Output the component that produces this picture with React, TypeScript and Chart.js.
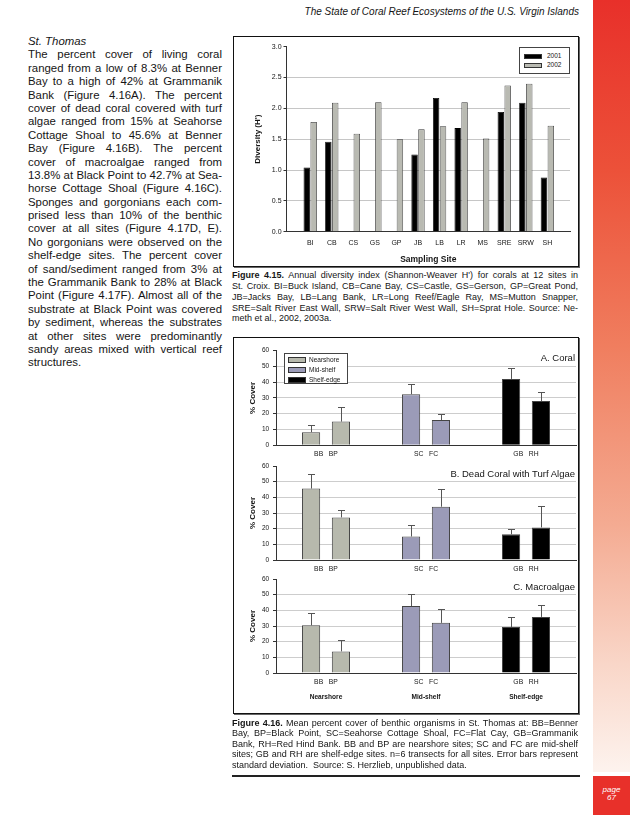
import React, { useEffect, useRef } from 'react';
import { Chart, registerables } from 'chart.js';

Chart.register(...registerables);

const FONT = '"Liberation Sans", Arial, Helvetica, sans-serif';
const INK = '#151515';

// ---------- Figure 4.15 data (St. Croix diversity) ----------
const croixSites = ['BI', 'CB', 'CS', 'GS', 'GP', 'JB', 'LB', 'LR', 'MS', 'SRE', 'SRW', 'SH'];
const diversity2001: (number | null)[] = [1.04, 1.46, null, null, null, 1.25, 2.17, 1.68, null, 1.94, 2.09, 0.88];
const diversity2002: number[] = [1.78, 2.09, 1.59, 2.1, 1.5, 1.66, 1.71, 2.1, 1.51, 2.37, 2.4, 1.72];
const yearLabels = ['2001', '2002'];

// ---------- Figure 4.16 data (St. Thomas % cover) ----------
const shelfGroups = ['Nearshore', 'Mid-shelf', 'Shelf-edge'];
const thomasSites = ['BB', 'BP', 'SC', 'FC', 'GB', 'RH'];
const coralMean = [8.3, 15.0, 32.3, 16.0, 42.0, 28.0];
const coralSD = [4.5, 9.5, 6.4, 4.0, 7.2, 5.7];
const turfMean = [45.6, 27.2, 15.0, 34.0, 16.4, 20.8];
const turfSD = [9.4, 4.8, 7.1, 11.4, 3.3, 13.6];
const macroMean = [30.4, 13.8, 42.7, 32.0, 29.3, 35.8];
const macroSD = [7.6, 7.1, 7.7, 9.1, 6.4, 7.8];
const panelTitles = ['A. Coral', 'B. Dead Coral with Turf Algae', 'C. Macroalgae'];

const groupColors = ['#b7b9ad', '#9b9bb8', '#000000'];
const yearColors = ['#000000', '#b9bab2'];

const caption1: string[] = [
  "  Annual diversity index (Shannon-Weaver H') for corals at 12 sites in",
  'St. Croix.  BI=Buck Island, CB=Cane Bay, CS=Castle, GS=Gerson, GP=Great Pond,',
  'JB=Jacks Bay, LB=Lang Bank, LR=Long Reef/Eagle Ray, MS=Mutton Snapper,',
  'SRE=Salt River East Wall, SRW=Salt River West Wall, SH=Sprat Hole.  Source: Ne-',
  'meth et al., 2002, 2003a.',
];
const caption2: string[] = [
  '  Mean percent cover of benthic organisms in St. Thomas at: BB=Benner',
  'Bay, BP=Black Point, SC=Seahorse Cottage Shoal, FC=Flat Cay, GB=Grammanik',
  'Bank, RH=Red Hind Bank. BB and BP are nearshore sites; SC and FC are mid-shelf',
  'sites; GB and RH are shelf-edge sites. n=6 transects for all sites.  Error bars represent',
  'standard deviation.  Source: S. Herzlieb, unpublished data.',
];
const bodyLines: string[] = [
  'The percent cover of living coral',
  'ranged from a low of 8.3% at Benner',
  'Bay to a high of 42% at Grammanik',
  'Bank (Figure 4.16A).  The percent',
  'cover of dead coral covered with turf',
  'algae ranged from 15% at Seahorse',
  'Cottage Shoal to 45.6% at Benner',
  'Bay (Figure 4.16B).  The percent',
  'cover of macroalgae ranged from',
  '13.8% at Black Point to 42.7% at Sea-',
  'horse Cottage Shoal (Figure 4.16C).',
  'Sponges and gorgonians each com-',
  'prised less than 10% of the benthic',
  'cover at all sites (Figure 4.17D, E).',
  'No gorgonians were observed on the',
  'shelf-edge sites.  The percent cover',
  'of sand/sediment ranged from 3% at',
  'the Grammanik Bank to 28% at Black',
  'Point (Figure 4.17F).  Almost all of the',
  'substrate at Black Point was covered',
  'by sediment, whereas the substrates',
  'at other sites were predominantly',
  'sandy areas mixed with vertical reef',
  'structures.',
];

const errorBarPlugin = {
  id: 'errorBars',
  afterDatasetsDraw(chart: any) {
    const { ctx } = chart;
    const y = chart.scales.y;
    chart.data.datasets.forEach((ds: any, di: number) => {
      if (!ds.sd) return;
      const meta = chart.getDatasetMeta(di);
      meta.data.forEach((bar: any, i: number) => {
        const v = ds.data[i];
        if (v == null) return;
        const top = Math.round(y.getPixelForValue(v + ds.sd[i])) + 0.5;
        const base = y.getPixelForValue(v);
        const x = Math.round(bar.x) + 0.5;
        ctx.save();
        ctx.strokeStyle = '#555';
        ctx.lineWidth = 1;
        ctx.beginPath();
        ctx.moveTo(x, base);
        ctx.lineTo(x, top);
        ctx.moveTo(x - 3.5, top);
        ctx.lineTo(x + 3.5, top);
        ctx.stroke();
        ctx.restore();
      });
    });
  },
};

function pairSeries(values: number[], k: number) {
  return shelfGroups.map((_, g) => values[g * 2 + k]);
}

function makeDiversityChart(canvas: HTMLCanvasElement) {
  return new Chart(canvas, {
    type: 'bar',
    data: {
      datasets: [
        {
          label: yearLabels[0],
          data: diversity2001.map((v, i) => ({ x: i, y: v })) as any,
          backgroundColor: yearColors[0],
          borderColor: '#000',
          borderWidth: 0.8,
        },
        {
          label: yearLabels[1],
          data: diversity2002.map((v, i) => ({ x: i, y: v })) as any,
          backgroundColor: yearColors[1],
          borderColor: '#333',
          borderWidth: 0.8,
        },
      ],
    },
    options: {
      animation: false,
      responsive: false,
      events: [],
      categoryPercentage: 0.64,
      barPercentage: 0.93,
      layout: { padding: { top: 9.7, right: 7, bottom: 0, left: 0 } },
      plugins: { legend: { display: false }, tooltip: { enabled: false } },
      scales: {
        x: {
          type: 'linear',
          bounds: 'data',
          offset: false,
          min: -1.1,
          max: 12.05,
          afterBuildTicks: (s: any) => {
            s.ticks = croixSites.map((_, i) => ({ value: i }));
          },
          ticks: {
            autoSkip: false,
            maxRotation: 0,
            callback: (v: any) => croixSites[v] ?? '',
            font: { family: FONT, size: 7 },
            color: INK,
            padding: 7.4,
          },
          grid: { display: false, drawTicks: false, tickLength: 0, offset: false },
          border: { display: true, color: '#333', width: 1 },
          title: {
            display: true,
            text: 'Sampling Site',
            font: { family: FONT, size: 8.5, weight: 'bold' },
            color: INK,
            padding: { top: 0, bottom: 0.6 },
          },
          afterFit: (s: any) => {
            s.height = 33.3;
          },
        },
        y: {
          min: 0,
          max: 3,
          ticks: {
            stepSize: 0.5,
            callback: (v: any) => Number(v).toFixed(1),
            font: { family: FONT, size: 7 },
            color: INK,
            padding: 1.9,
          },
          grid: {
            color: (ctx: any) =>
              ctx.tick && (ctx.tick.value === 0 || ctx.tick.value === 3) ? 'rgba(0,0,0,0)' : '#c6c6c6',
            tickColor: '#333',
            tickLength: 3,
          },
          border: { display: true, color: '#333', width: 1 },
          title: {
            display: true,
            text: "Diversity (H')",
            font: { family: FONT, size: 8, weight: 'bold' },
            color: INK,
            padding: { top: 19.2, bottom: 0 },
          },
          afterFit: (s: any) => {
            s.width = 52.5;
          },
        },
      },
    } as any,
  });
}

function makePanel(
  canvas: HTMLCanvasElement,
  means: number[],
  sds: number[],
  o: { padTop: number; xH: number; showGroups: boolean; x2H?: number }
) {
  const datasets = [0, 1].map((k) => ({
    label: 'site ' + (k + 1),
    data: pairSeries(means, k),
    sd: pairSeries(sds, k),
    backgroundColor: groupColors,
    borderColor: '#444',
    borderWidth: 1,
  }));
  const scales: any = {
    x: {
      type: 'category',
      offset: true,
      weight: 0,
      ticks: {
        autoSkip: false,
        maxRotation: 0,
        callback: (_v: any, i: number) => thomasSites[i * 2] + '   ' + thomasSites[i * 2 + 1],
        font: { family: FONT, size: 6.8 },
        color: INK,
        padding: 4.6,
      },
      grid: { display: false, drawTicks: false, tickLength: 0 },
      border: { display: true, color: '#333', width: 1 },
      afterFit: (s: any) => {
        s.height = o.xH;
      },
    },
    y: {
      min: 0,
      max: 60,
      ticks: {
        stepSize: 10,
        font: { family: FONT, size: 6.5 },
        color: INK,
        padding: 3.8,
      },
      grid: {
        color: (ctx: any) =>
          ctx.tick && (ctx.tick.value === 0 || ctx.tick.value === 60) ? 'rgba(0,0,0,0)' : '#cdcdcd',
        tickColor: '#333',
        tickLength: 3,
      },
      border: { display: true, color: '#333', width: 1 },
      title: {
        display: true,
        text: '% Cover',
        font: { family: FONT, size: 8, weight: 'bold' },
        color: INK,
        padding: { top: 11.7, bottom: 0 },
      },
      afterFit: (s: any) => {
        s.width = 40;
      },
    },
  };
  if (o.showGroups) {
    scales.x2 = {
      type: 'category',
      position: 'bottom',
      labels: shelfGroups,
      offset: true,
      weight: 1,
      ticks: {
        autoSkip: false,
        maxRotation: 0,
        font: { family: FONT, size: 6.6, weight: 'bold' },
        color: INK,
        padding: 6.8,
      },
      grid: { display: false, drawTicks: false, tickLength: 0 },
      border: { display: false },
      afterFit: (s: any) => {
        s.height = o.x2H ?? 17;
      },
    };
  }
  return new Chart(canvas, {
    type: 'bar',
    data: { labels: shelfGroups, datasets: datasets as any },
    options: {
      animation: false,
      responsive: false,
      events: [],
      categoryPercentage: 0.597,
      barPercentage: 0.61,
      layout: { padding: { top: o.padTop, right: 1, bottom: 0, left: 0 } },
      plugins: { legend: { display: false }, tooltip: { enabled: false } },
      scales,
    } as any,
    plugins: [errorBarPlugin],
  });
}

const abs = (l: number, t: number, w?: number, h?: number): React.CSSProperties => ({
  position: 'absolute',
  left: l,
  top: t,
  ...(w !== undefined ? { width: w } : {}),
  ...(h !== undefined ? { height: h } : {}),
});

function JustifiedLines({
  lines,
  left,
  top,
  width,
  size,
  lh,
  boldFirst,
}: {
  lines: string[];
  left: number;
  top: number;
  width: number;
  size: number;
  lh: number;
  boldFirst?: string;
}) {
  return (
    <div style={{ ...abs(left, top, width), fontFamily: FONT, fontSize: size, lineHeight: lh + 'px', color: INK }}>
      {lines.map((ln, i) => {
        const last = i === lines.length - 1;
        return (
          <div
            key={i}
            style={{
              whiteSpace: last ? 'pre' : 'nowrap',
              textAlign: last ? 'left' : 'justify',
              textAlignLast: last ? 'left' : 'justify',
              height: lh,
            }}
          >
            {i === 0 && boldFirst ? <b>{boldFirst}</b> : null}
            {ln}
          </div>
        );
      })}
    </div>
  );
}

export default function App() {
  const c1 = useRef<HTMLCanvasElement>(null);
  const cA = useRef<HTMLCanvasElement>(null);
  const cB = useRef<HTMLCanvasElement>(null);
  const cC = useRef<HTMLCanvasElement>(null);

  useEffect(() => {
    const charts: Chart[] = [];
    if (c1.current) charts.push(makeDiversityChart(c1.current));
    if (cA.current) charts.push(makePanel(cA.current, coralMean, coralSD, { padTop: 10.5, xH: 18.7, showGroups: false }));
    if (cB.current) charts.push(makePanel(cB.current, turfMean, turfSD, { padTop: 10, xH: 19, showGroups: false }));
    if (cC.current)
      charts.push(makePanel(cC.current, macroMean, macroSD, { padTop: 10, xH: 13, showGroups: true, x2H: 17 }));
    return () => charts.forEach((c) => c.destroy());
  }, []);

  const boxStyle: React.CSSProperties = {
    position: 'absolute',
    border: '1px solid #111',
    boxShadow: '1px 1px 0 #666',
    boxSizing: 'border-box',
    background: '#fff',
  };

  const swatch = (color: string): React.CSSProperties => ({
    display: 'inline-block',
    background: color,
    border: '1px solid #333',
    boxSizing: 'border-box',
  });

  return (
    <div style={{ position: 'absolute', left: 0, top: 0, width: 630, height: 815, background: '#fff', overflow: 'hidden', fontFamily: FONT }}>
      {/* red side band */}
      <div
        style={{
          ...abs(593, 0, 37, 772),
          background: 'linear-gradient(to bottom, #e8302a 0%, #ec5139 22%, #f07e5f 45%, #f4ab92 68%, #f9d6c8 86%, #fdf3ee 100%)',
        }}
      />
      <div style={{ ...abs(593, 776, 37, 39), background: '#e8302a' }} />
      <div style={{ ...abs(593, 786, 37), color: '#fff', fontStyle: 'italic', fontSize: 8, lineHeight: '8px', textAlign: 'center' }}>
        page
        <br />
        67
      </div>

      {/* running header */}
      <div style={{ ...abs(250, 6, 329), textAlign: 'right', fontStyle: 'italic', fontSize: 10, lineHeight: '12px', color: INK }}>
        The State of Coral Reef Ecosystems of the U.S. Virgin Islands
      </div>

      {/* left column */}
      <div style={{ ...abs(28, 35, 200), fontStyle: 'italic', fontSize: 11.4, lineHeight: '13.4px', color: INK }}>St. Thomas</div>
      <JustifiedLines lines={bodyLines} left={28} top={48.4} width={194} size={11.4} lh={13.4} />

      {/* Figure 4.15 */}
      <div style={{ ...boxStyle, ...abs(233, 36, 346, 231) }} />
      <canvas ref={c1} width={343} height={228} style={{ ...abs(234, 37, 343, 228), display: 'block' }} />
      <div style={{ ...abs(519, 47, 51, 27), border: '1px solid #444', boxSizing: 'border-box', background: '#fff', fontSize: 6.5, color: INK }}>
        {yearLabels.map((lab, i) => (
          <div key={lab} style={{ ...abs(4, 4 + i * 9, 44, 8), display: 'flex', alignItems: 'center' }}>
            <span style={{ ...swatch(yearColors[i]), width: 18, height: 5 }} />
            <span style={{ marginLeft: 5, lineHeight: '8px' }}>{lab}</span>
          </div>
        ))}
      </div>
      <JustifiedLines lines={caption1} left={232} top={270.3} width={346} size={9} lh={10.8} boldFirst="Figure 4.15." />

      {/* Figure 4.16 */}
      <div style={{ ...boxStyle, ...abs(233, 337, 346, 377) }} />
      <canvas ref={cA} width={341} height={124} style={{ ...abs(236, 340, 341, 124), display: 'block' }} />
      <canvas ref={cB} width={341} height={123} style={{ ...abs(236, 456, 341, 123), display: 'block' }} />
      <canvas ref={cC} width={341} height={134} style={{ ...abs(236, 569, 341, 134), display: 'block' }} />
      {panelTitles.map((t, i) => (
        <div key={t} style={{ ...abs(330, [352, 468, 581][i], 245), textAlign: 'right', fontSize: 9.5, lineHeight: '12px', color: INK }}>
          {t}
        </div>
      ))}
      <div style={{ ...abs(284, 353, 64, 31), border: '1px solid #444', boxSizing: 'border-box', background: '#fff', fontSize: 6.5, color: INK }}>
        {shelfGroups.map((g, i) => (
          <div key={g} style={{ ...abs(3, 1 + i * 10, 60, 9), display: 'flex', alignItems: 'center' }}>
            <span style={{ ...swatch(groupColors[i]), width: 17.5, height: 6 }} />
            <span style={{ marginLeft: 3.5, lineHeight: '9px' }}>{g}</span>
          </div>
        ))}
      </div>
      <JustifiedLines lines={caption2} left={232} top={717.7} width={346} size={9} lh={10.5} boldFirst="Figure 4.16." />
      <div style={{ ...abs(232, 775, 348, 2), background: '#222' }} />
    </div>
  );
}
